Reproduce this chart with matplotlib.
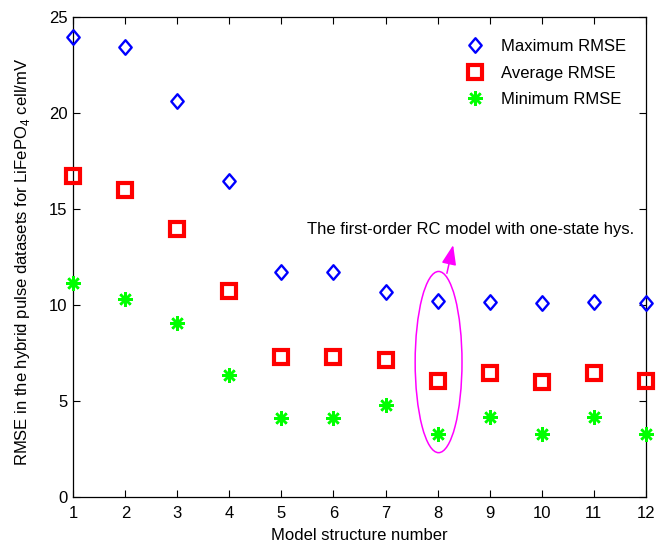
import numpy as np
import matplotlib
matplotlib.use("Agg")
import matplotlib.pyplot as plt
from matplotlib.patches import Ellipse
from matplotlib.path import Path

# RMSE per model structure, hybrid pulse datasets (LiFePO4 cell)
model_no = [1, 2, 3, 4, 5, 6, 7, 8, 9, 10, 11, 12]
rmse_max = [23.98, 23.46, 20.65, 16.48, 11.73, 11.73, 10.69, 10.2, 10.17, 10.08, 10.17, 10.11]
rmse_avg = [16.7, 15.99, 13.96, 10.74, 7.28, 7.27, 7.13, 6.03, 6.43, 6.0, 6.47, 6.03]
rmse_min = [11.16, 10.29, 9.08, 6.35, 4.08, 4.08, 4.8, 3.27, 4.17, 3.27, 4.17, 3.27]

y_ticks = [0, 5, 10, 15, 20, 25]
note = "The first-order RC model with one-state hys."

plt.rcParams["font.family"] = ["Liberation Sans", "DejaVu Sans"]
plt.rcParams["font.size"] = 12
plt.rcParams["mathtext.fontset"] = "custom"
plt.rcParams["mathtext.rm"] = "Liberation Sans"

# slightly tall diamond like the matlab one
diamond = Path([(0, 1), (0.85, 0), (0, -1), (-0.85, 0), (0, 1)],
               [Path.MOVETO, Path.LINETO, Path.LINETO, Path.LINETO, Path.CLOSEPOLY])

fig = plt.figure(figsize=(6.68, 5.49), dpi=100)
ax = fig.add_axes([0.1097, 0.0953, 0.8569, 0.8732])

ax.plot(model_no, rmse_max, linestyle="none", marker=diamond, ms=10.5, mew=1.7,
        mfc="none", mec=(0, 0, 1), label="Maximum RMSE", clip_on=False, zorder=3)
ax.plot(model_no, rmse_avg, linestyle="none", marker="s", ms=9.8, mew=3.0,
        mfc="none", mec=(1, 0, 0), label="Average RMSE", clip_on=False, zorder=3)
ax.plot(model_no, rmse_min, linestyle="none", marker=(8, 2, 0), ms=10.5, mew=1.8,
        mec=(0, 1, 0), color=(0, 1, 0), label="Minimum RMSE", clip_on=False, zorder=3)

ax.set_xlim(1, 12)
ax.set_ylim(0, 25)
ax.set_xticks(model_no)
ax.set_yticks(y_ticks)
ax.tick_params(direction="in", length=5, width=0.8, top=True, right=True)
ax.tick_params(axis="x", pad=7)
ax.tick_params(axis="y", pad=4)
for s in ax.spines.values():
    s.set_linewidth(0.9)

ax.set_xlabel("Model structure number", labelpad=5)
ax.set_ylabel("RMSE in the hybrid pulse datasets for LiFePO$_4$ cell/mV")
ax.yaxis.set_label_coords(-0.072, 0.49)

# highlight model 8
ax.add_patch(Ellipse((8.02, 7.02), 0.9, 9.45, fill=False, edgecolor=(1, 0, 1), lw=1.1))
ax.annotate("", xy=(8.30, 13.12), xytext=(8.18, 11.65),
            arrowprops=dict(arrowstyle="-|>,head_length=0.8,head_width=0.3",
                            color=(1, 0, 1), lw=1.1, mutation_scale=15,
                            shrinkA=0, shrinkB=0))
ax.text(5.49, 13.95, note, ha="left", va="center")

leg = ax.legend(loc="upper left", bbox_to_anchor=(454.0 / 668, 1 - 31.0 / 549),
                bbox_transform=fig.transFigure, frameon=False, numpoints=1,
                handlelength=1.5, handletextpad=0.8, borderpad=0, labelspacing=0.68)

fig.savefig("out.png", dpi=100)
